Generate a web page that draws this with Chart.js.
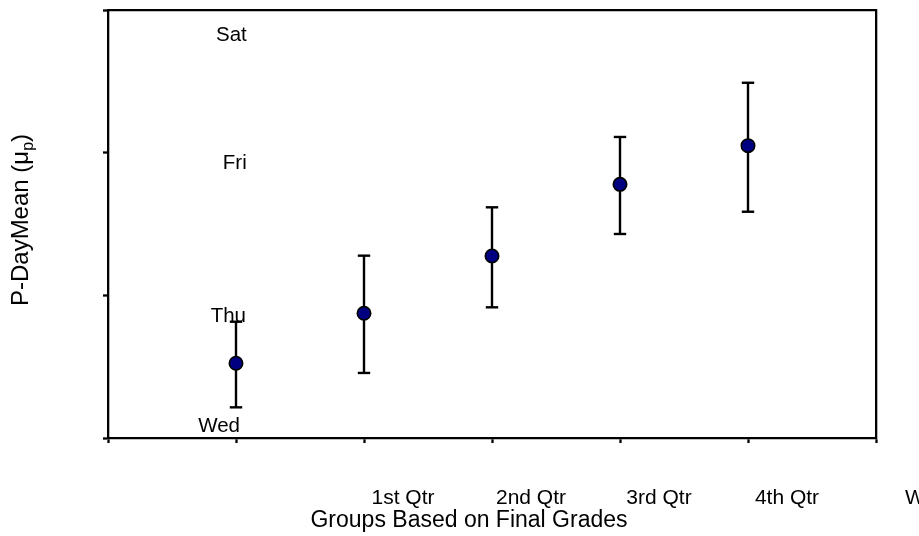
<!DOCTYPE html>
<html>
<head>
<meta charset="utf-8">
<script src="https://cdn.jsdelivr.net/npm/chart.js@4/dist/chart.umd.min.js"></script>
<style>
  html, body { margin: 0; padding: 0; background: #ffffff; }
  #wrap { width: 919px; height: 536px; position: relative; }
</style>
</head>
<body>
<div id="wrap"><canvas id="c" width="919" height="536"></canvas></div>
<script>
// ---- data ----
const groupPositions = [1, 2, 3, 4, 5];
const meanValues  = [0.524, 0.874, 1.276, 1.778, 2.049];
const upperValues = [0.815, 1.278, 1.617, 2.110, 2.490];
const lowerValues = [0.215, 0.456, 0.916, 1.430, 1.586];
const xTickLabels = ['', '', '1st Qtr', '2nd Qtr', '3rd Qtr', '4th Qtr', 'W'];
const yDayLabels  = ['Wed', 'Thu', 'Fri', 'Sat'];
const xTitle = 'Groups Based on Final Grades';
const yTitleMain = 'P-DayMean (\u03bc';
const yTitleSub = 'p';
const yTitleEnd = ')';

const FONT = '"Liberation Sans", Arial, Helvetica, sans-serif';

// build datasets from the arrays
const meanData = groupPositions.map((x, i) => ({ x: x, y: meanValues[i] }));
const errData = [];
groupPositions.forEach((x, i) => {
  errData.push({ x: x, y: lowerValues[i] });
  errData.push({ x: x, y: upperValues[i] });
  errData.push({ x: x + 0.5, y: null });
});

const textPlugin = {
  id: 'textPlugin',
  afterDraw(chart, args, opts) {
    const ctx = chart.ctx;
    const xs = chart.scales.x, ys = chart.scales.y;
    ctx.save();
    ctx.fillStyle = '#000';
    // day labels inside the plot
    ctx.font = '20.5px ' + FONT;
    ctx.textAlign = 'right';
    ctx.textBaseline = 'alphabetic';
    yDayLabels.forEach((t, i) => {
      const a = opts.dayAnchors[i];
      ctx.fillText(t, xs.getPixelForValue(a.x), ys.getPixelForValue(a.y));
    });
    // x title
    ctx.font = '23px ' + FONT;
    ctx.textAlign = 'center';
    ctx.fillText(xTitle, opts.xTitlePos.x, opts.xTitlePos.y);
    // y title with subscript
    ctx.translate(opts.yTitlePos.x, opts.yTitlePos.y);
    ctx.rotate(-Math.PI / 2);
    ctx.textAlign = 'left';
    const mainFont = '24px ' + FONT, subFont = '16px ' + FONT;
    ctx.font = mainFont;
    const w1 = ctx.measureText(yTitleMain).width;
    const w3 = ctx.measureText(yTitleEnd).width;
    ctx.font = subFont;
    const w2 = ctx.measureText(yTitleSub).width;
    let x0 = -(w1 + w2 + w3) / 2;
    ctx.font = mainFont;
    ctx.fillText(yTitleMain, x0, 0);
    ctx.font = subFont;
    ctx.fillText(yTitleSub, x0 + w1, 5);
    ctx.font = mainFont;
    ctx.fillText(yTitleEnd, x0 + w1 + w2, 0);
    ctx.restore();
  }
};

const axisGrid = {
  display: true, drawOnChartArea: false, drawTicks: true,
  tickLength: 5, tickWidth: 2.3, tickColor: '#000'
};
const axisBorder = { display: true, color: '#000', width: 2.3 };

new Chart(document.getElementById('c'), {
  type: 'scatter',
  data: {
    datasets: [
      {
        label: 'Mean',
        data: meanData,
        order: 0,
        showLine: false,
        pointRadius: 6.7,
        pointHoverRadius: 6.7,
        pointBackgroundColor: '#000080',
        pointBorderColor: '#000',
        pointBorderWidth: 1.6
      },
      {
        label: 'Error',
        data: errData,
        order: 1,
        type: 'line',
        showLine: true,
        spanGaps: false,
        borderColor: '#000',
        borderWidth: 2.4,
        pointStyle: 'line',
        pointRadius: 6.2,
        pointHoverRadius: 6.2,
        pointBorderColor: '#000',
        pointBorderWidth: 2.4,
        fill: false
      }
    ]
  },
  options: {
    responsive: false,
    animation: false,
    devicePixelRatio: 1,
    layout: { padding: { top: 10, right: 43, left: 0, bottom: 0 } },
    plugins: {
      legend: { display: false },
      tooltip: { enabled: false },
      textPlugin: {
        dayAnchors: [
          { x: 1.031, y: 0.044 },
          { x: 1.078, y: 0.815 },
          { x: 1.084, y: 1.883 },
          { x: 1.084, y: 2.785 }
        ],
        xTitlePos: { x: 469, y: 526.5 },
        yTitlePos: { x: 28, y: 220 }
      }
    },
    scales: {
      x: {
        type: 'linear', position: 'bottom', min: 0, max: 6,
        afterFit: s => { s.height = 98; s.paddingLeft = 0; s.paddingRight = 0; },
        grid: axisGrid, border: axisBorder,
        ticks: {
          stepSize: 1, autoSkip: false, maxRotation: 0, minRotation: 0,
          padding: 43, labelOffset: 39, color: '#000',
          font: { family: FONT, size: 21 },
          callback: v => xTickLabels[v] !== undefined ? xTickLabels[v] : ''
        }
      },
      y: {
        type: 'linear', position: 'left', min: 0, max: 3,
        afterFit: s => { s.width = 108; },
        grid: axisGrid, border: axisBorder,
        ticks: { stepSize: 1, callback: () => '', padding: 0 }
      },
      x2: {
        type: 'linear', position: 'top', min: 0, max: 6,
        afterFit: s => { s.height = 0; s.paddingLeft = 0; s.paddingRight = 0; },
        grid: { display: false }, border: axisBorder,
        ticks: { display: false }
      },
      y2: {
        type: 'linear', position: 'right', min: 0, max: 3,
        afterFit: s => { s.width = 0; },
        grid: { display: false }, border: axisBorder,
        ticks: { display: false }
      }
    }
  },
  plugins: [textPlugin]
});
</script>
</body>
</html>
